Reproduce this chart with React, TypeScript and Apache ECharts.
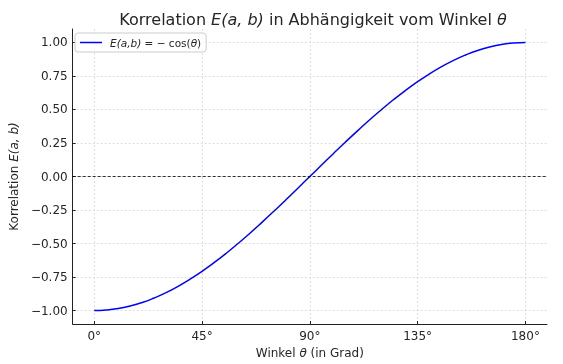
import React, { useEffect, useRef } from "react";
import * as echarts from "echarts";

const angles = [0, 5, 10, 15, 20, 25, 30, 35, 40, 45, 50, 55, 60, 65, 70, 75, 80, 85, 90, 95, 100, 105, 110, 115, 120, 125, 130, 135, 140, 145, 150, 155, 160, 165, 170, 175, 180];
const correlation = [-1.0, -0.996, -0.985, -0.966, -0.94, -0.906, -0.866, -0.819, -0.766, -0.707, -0.643, -0.574, -0.5, -0.423, -0.342, -0.259, -0.174, -0.087, 0.0, 0.087, 0.174, 0.259, 0.342, 0.423, 0.5, 0.574, 0.643, 0.707, 0.766, 0.819, 0.866, 0.906, 0.94, 0.966, 0.985, 0.996, 1.0];
const xTicks = [0, 45, 90, 135, 180];
const yTicks = [-1.0, -0.75, -0.5, -0.25, 0.0, 0.25, 0.5, 0.75, 1.0];

const FONT = "DejaVu Sans";
const TXT = "#262626";

export default function App() {
  const ref = useRef<HTMLDivElement>(null);
  useEffect(() => {
    if (!ref.current) return;
    const chart = echarts.init(ref.current, null, { renderer: "svg" });
    const gridLine = { show: true, lineStyle: { color: "#d6d6d6", type: [2, 2], width: 0.8 } };
    const italic = (size: number) => ({ i: { fontFamily: FONT, fontSize: size, fontStyle: "italic", color: TXT } });
    chart.setOption({
      animation: false,
      textStyle: { fontFamily: FONT },
      title: {
        text: "Korrelation {i|E(a, b)} in Abhängigkeit vom Winkel {i|θ}",
        left: 308,
        textAlign: "center",
        top: 6,
        textStyle: {
          fontFamily: FONT,
          fontSize: 16,
          fontWeight: "normal",
          color: TXT,
          rich: italic(16),
        },
      },
      legend: {
        left: 75,
        top: 33,
        orient: "vertical",
        backgroundColor: "rgba(255,255,255,0.8)",
        borderColor: "#cccccc",
        borderWidth: 1,
        borderRadius: 3,
        padding: [4, 5, 4, 5],
        itemWidth: 22,
        itemHeight: 10,
        itemGap: 4,
        icon: "path://M0,4.25L22,4.25L22,5.75L0,5.75Z",
        formatter: () => "{i|E(a,b)} = − cos({i|θ})",
        textStyle: {
          fontFamily: FONT,
          fontSize: 10.5,
          color: TXT,
          padding: [0, 0, 0, 3],
          rich: italic(10.5),
        },
      },
      grid: { left: 70, right: 16, top: 29, bottom: 40, containLabel: false },
      xAxis: {
        type: "value",
        min: -9,
        max: 189,
        name: "Winkel {i|θ} (in Grad)",
        nameLocation: "middle",
        nameGap: 22,
        nameTextStyle: { fontFamily: FONT, fontSize: 12, color: TXT, rich: italic(12) },
        axisLine: { show: true, onZero: false, lineStyle: { color: "#222", width: 1 } },
        axisTick: { show: true, inside: true, customValues: xTicks, length: 3, lineStyle: { color: "#222" } },
        axisLabel: {
          customValues: xTicks,
          formatter: (v: number) => `${v}°`,
          fontFamily: FONT,
          fontSize: 12,
          color: TXT,
          margin: 6,
        },
        splitLine: gridLine,
      },
      yAxis: {
        type: "value",
        min: -1.1,
        max: 1.1,
        name: "Korrelation {i|E(a, b)}",
        nameLocation: "middle",
        nameRotate: 90,
        nameGap: 48,
        nameTextStyle: { fontFamily: FONT, fontSize: 12, color: TXT, rich: italic(12) },
        axisLine: { show: true, onZero: false, lineStyle: { color: "#222", width: 1 } },
        axisTick: { show: true, inside: true, customValues: yTicks, length: 3, lineStyle: { color: "#222" } },
        axisLabel: {
          customValues: yTicks,
          formatter: (v: number) => v.toFixed(2).replace("-", "−"),
          fontFamily: FONT,
          fontSize: 12,
          color: TXT,
          margin: 5,
        },
        splitLine: gridLine,
      },
      series: [
        {
          name: "E(a,b) = −cos(θ)",
          type: "line",
          data: angles.map((a, i) => [a, correlation[i]]),
          smooth: true,
          showSymbol: false,
          symbol: "none",
          lineStyle: { color: "#0000ff", width: 1.5 },
          itemStyle: { color: "#0000ff" },
          markLine: {
            silent: true,
            symbol: "none",
            label: { show: false },
            lineStyle: { color: "#000", type: [3, 2], width: 0.8 },
            data: [{ yAxis: 0 }],
          },
        },
      ],
    });
    return () => chart.dispose();
  }, []);
  return <div ref={ref} style={{ position: "fixed", left: 0, top: 0, width: 563, height: 364 }} />;
}
